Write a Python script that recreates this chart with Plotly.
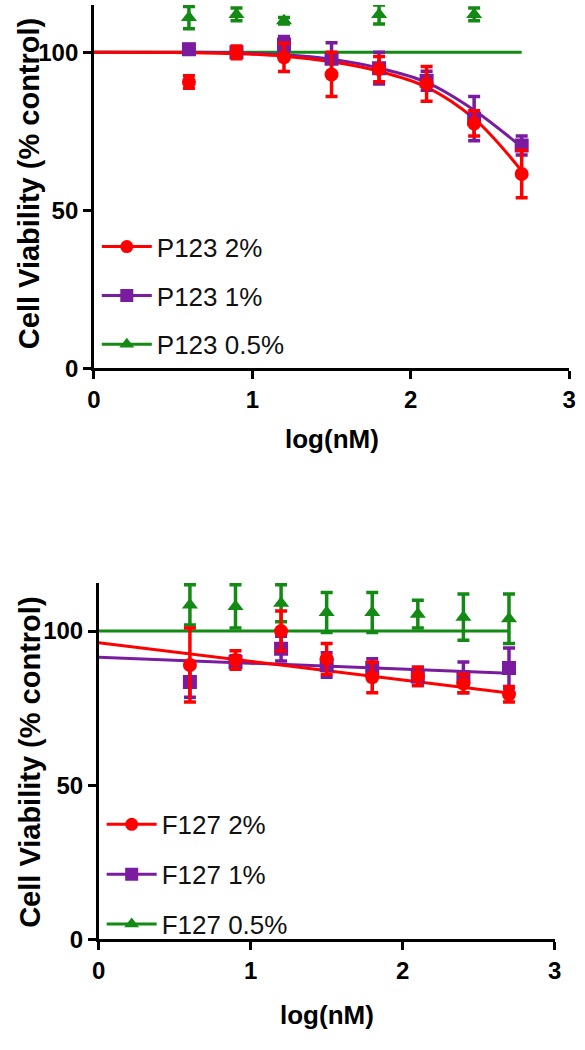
import plotly.graph_objects as go

# ---------------- data ----------------
x_pts = [0.6, 0.9, 1.2, 1.5, 1.8, 2.1, 2.4, 2.7]

# Top panel (P123)
p123_2_y = [90.6, 100.0, 98.4, 93.0, 94.7, 90.0, 77.5, 61.5]
p123_2_e = [2.0, 2.0, 4.5, 7.0, 4.0, 5.5, 4.0, 7.5]
p123_1_y = [101.0, 100.0, 102.5, 98.0, 95.0, 91.0, 79.0, 70.5]
p123_1_e = [1.5, 1.5, 2.5, 5.0, 5.0, 3.0, 7.0, 3.0]
p123_05_x = [0.6, 0.9, 1.2, 1.8, 2.4]
p123_05_y = [111.0, 112.0, 110.0, 112.0, 112.0]
p123_05_e = [3.5, 2.0, 1.0, 3.0, 2.0]

fit_x_top = [0.0, 0.6, 0.9, 1.2, 1.5, 1.8, 2.1, 2.4, 2.7]
fit_p123_2 = [100.0, 99.9, 99.6, 98.8, 97.0, 94.0, 89.0, 79.0, 62.5]
fit_p123_1 = [100.0, 100.0, 99.8, 99.2, 97.8, 95.0, 90.5, 81.7, 70.0]
fit_x_flat = [0.0, 2.7]
fit_p123_05 = [100.0, 100.0]

# Bottom panel (F127)
f127_2_y = [89.0, 90.6, 100.0, 91.0, 85.0, 85.3, 83.0, 79.5]
f127_2_e = [12.0, 3.0, 6.5, 5.0, 5.0, 3.0, 3.0, 2.5]
f127_1_y = [83.5, 90.0, 94.3, 89.0, 88.0, 85.3, 85.0, 88.0]
f127_1_e = [5.0, 2.0, 4.0, 4.0, 3.0, 3.0, 5.0, 6.5]
f127_05_y = [108.5, 108.0, 109.0, 106.0, 106.0, 105.5, 104.5, 104.0]
f127_05_e = [6.5, 7.0, 6.0, 6.5, 6.5, 4.5, 7.5, 8.0]

fit_f127_2 = [96.2, 79.9]
fit_f127_1 = [91.5, 86.3]
fit_f127_05 = [100.0, 100.0]

labels_top = ["P123 2%", "P123 1%", "P123 0.5%"]
labels_bot = ["F127 2%", "F127 1%", "F127 0.5%"]

x_ticks = [0, 1, 2, 3]
y_ticks = [0, 50, 100]

# ---------------- style ----------------
RED = "#FF0000"
PURPLE = "#7A1CA0"
GREEN = "#138A13"
colors = [RED, PURPLE, GREEN]
symbols = ["circle", "square", "triangle-up"]
FONT = "Liberation Sans, Arial, sans-serif"

fig = go.Figure()


def add_panel(xa, ya, leg, fits_x, fits, pts, labels):
    # fitted curves (green, purple, red order so red is on top)
    for i in [2, 1, 0]:
        fig.add_trace(go.Scatter(
            x=fits_x[i], y=fits[i], mode="lines", xaxis=xa, yaxis=ya,
            line=dict(color=colors[i], width=3, shape="spline", smoothing=1.0),
            showlegend=False, hoverinfo="skip"))
    # data points with error bars
    for i in [2, 1, 0]:
        px, py, pe = pts[i]
        fig.add_trace(go.Scatter(
            x=px, y=py, mode="markers", xaxis=xa, yaxis=ya,
            marker=dict(symbol=symbols[i], size=14, color=colors[i]),
            error_y=dict(type="data", array=pe, visible=True,
                         color=colors[i], thickness=3.5, width=6),
            showlegend=False))
    # legend entries
    for i in range(3):
        fig.add_trace(go.Scatter(
            x=[None], y=[None], mode="lines+markers", xaxis=xa, yaxis=ya,
            name=labels[i], legend=leg, legendgroup=leg + str(i),
            line=dict(color=colors[i], width=3),
            marker=dict(symbol=symbols[i], size=13, color=colors[i])))


add_panel("x", "y", "legend",
          [fit_x_top, fit_x_top, fit_x_flat],
          [fit_p123_2, fit_p123_1, fit_p123_05],
          [(x_pts, p123_2_y, p123_2_e), (x_pts, p123_1_y, p123_1_e),
           (p123_05_x, p123_05_y, p123_05_e)],
          labels_top)

add_panel("x2", "y2", "legend2",
          [fit_x_flat, fit_x_flat, fit_x_flat],
          [fit_f127_2, fit_f127_1, fit_f127_05],
          [(x_pts, f127_2_y, f127_2_e), (x_pts, f127_1_y, f127_1_e),
           (x_pts, f127_05_y, f127_05_e)],
          labels_bot)

W, H = 585, 1050

axis_common = dict(
    showline=True, linecolor="black", linewidth=2.5,
    ticks="outside", ticklen=8, tickwidth=2.5, tickcolor="black",
    showgrid=False, zeroline=False,
    tickfont=dict(family=FONT, size=24, color="black", weight="bold"),
)

fig.update_layout(
    width=W, height=H,
    margin=dict(l=0, r=0, t=0, b=0),
    paper_bgcolor="white", plot_bgcolor="white",
    font=dict(family=FONT, color="black"),
    xaxis=dict(domain=[89 / W, 576 / W], range=[0, 3], tickvals=x_ticks,
               anchor="y", **axis_common),
    yaxis=dict(domain=[1 - 373 / H, 1 - 5 / H], range=[0, 115], tickvals=y_ticks,
               anchor="x", **axis_common),
    xaxis2=dict(domain=[94 / W, 561 / W], range=[0, 3], tickvals=x_ticks,
                anchor="y2", **axis_common),
    yaxis2=dict(domain=[1 - 951 / H, 1 - 590 / H], range=[0, 115.7], tickvals=y_ticks,
                anchor="x2", **axis_common),
    legend=dict(x=92 / W, y=1 - 226 / H, xanchor="left", yanchor="top",
                bgcolor="rgba(0,0,0,0)", tracegroupgap=12, itemwidth=50,
                font=dict(family=FONT, size=26, color="#111111")),
    legend2=dict(x=97 / W, y=1 - 811 / H, xanchor="left", yanchor="top",
                 bgcolor="rgba(0,0,0,0)", tracegroupgap=13, itemwidth=50,
                 font=dict(family=FONT, size=26, color="#111111")),
    showlegend=True,
)

title_font = dict(family=FONT, size=29, color="black", weight="bold")
xt_font = dict(family=FONT, size=26, color="black", weight="bold")
fig.add_annotation(text="Cell Viability (% control)", textangle=-90,
                   x=22 / W, y=1 - 186 / H, xref="paper", yref="paper",
                   xanchor="center", yanchor="middle",
                   showarrow=False, font=title_font)
fig.add_annotation(text="Cell Viability (% control)", textangle=-90,
                   x=24 / W, y=1 - 772 / H, xref="paper", yref="paper",
                   xanchor="center", yanchor="middle",
                   showarrow=False, font=title_font)
fig.add_annotation(text="log(nM)", x=333 / W, y=1 - 445 / H,
                   xref="paper", yref="paper", xanchor="center", yanchor="middle",
                   showarrow=False, font=xt_font)
fig.add_annotation(text="log(nM)", x=328 / W, y=1 - 1028 / H,
                   xref="paper", yref="paper", xanchor="center", yanchor="middle",
                   showarrow=False, font=xt_font)

fig.write_html("out.html",
               config={"displayModeBar": False},
               post_script="document.body.style.margin='0px';"
                           "document.body.style.padding='0px';"
                           "document.body.style.overflow='hidden';")
